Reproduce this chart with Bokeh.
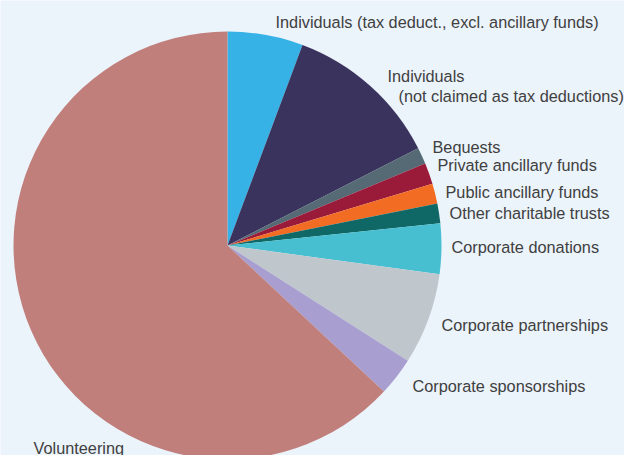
import numpy as np
from bokeh.plotting import figure
from bokeh.models import ColumnDataSource, Range1d
from bokeh.core.properties import value
from bokeh.embed import file_html
from bokeh.resources import INLINE

# Data (share of total, %)
categories = [
    "Individuals (tax deduct., excl. ancillary funds)",
    "Individuals (not claimed as tax deductions)",
    "Bequests",
    "Private ancillary funds",
    "Public ancillary funds",
    "Other charitable trusts",
    "Corporate donations",
    "Corporate partnerships",
    "Corporate sponsorships",
    "Volunteering",
]
shares = [5.7, 11.8, 1.25, 1.6, 1.5, 1.5, 3.8, 6.9, 2.9, 63.05]
colors = ["#36B2E6", "#3A335D", "#556A74", "#9A1A39", "#F26C23",
          "#0F6866", "#47BFD1", "#C0C7CC", "#A89ED0", "#C07F7B"]

# Label texts and placement (page pixel coordinates)
label_texts = [
    "Individuals (tax deduct., excl. ancillary funds)",
    "Individuals",
    "(not claimed as tax deductions)",
    "Bequests",
    "Private ancillary funds",
    "Public ancillary funds",
    "Other charitable trusts",
    "Corporate donations",
    "Corporate partnerships",
    "Corporate sponsorships",
    "Volunteering",
]
label_px = [275, 387, 398, 432, 437, 445, 449, 451, 441, 412, 33]
label_py = [21, 75, 95, 146, 164, 191, 212, 246, 324, 385, 447]

BG = "#EBF3FB"
W, H = 624, 455
cx, cy, R = 227, 245, 214

vals = np.array(shares, dtype=float)
frac = vals / vals.sum()
cum = np.cumsum(frac)
start = np.pi / 2 - (cum - frac) * 2 * np.pi
end = np.pi / 2 - cum * 2 * np.pi

src = ColumnDataSource(dict(cat=categories, start=start, end=end, color=colors,
                            x=[cx] * len(vals), y=[H - cy] * len(vals)))

p = figure(width=W, height=H, output_backend="svg", toolbar_location=None,
           x_range=Range1d(0, W), y_range=Range1d(0, H),
           min_border=0, background_fill_color=BG, border_fill_color=BG)
p.axis.visible = False
p.grid.visible = False
p.outline_line_color = None

p.wedge(x="x", y="y", radius=R, start_angle="start", end_angle="end",
        direction="clock", fill_color="color", line_color=None, source=src)

lsrc = ColumnDataSource(dict(x=label_px, y=[H - v for v in label_py], t=label_texts))
p.text(x="x", y="y", text="t", source=lsrc, text_font=value("Liberation Sans"),
       text_font_size="16.3px", text_color="#404040", text_baseline="middle",
       text_align="left")

open("out.html", "w").write(file_html(p, INLINE))
